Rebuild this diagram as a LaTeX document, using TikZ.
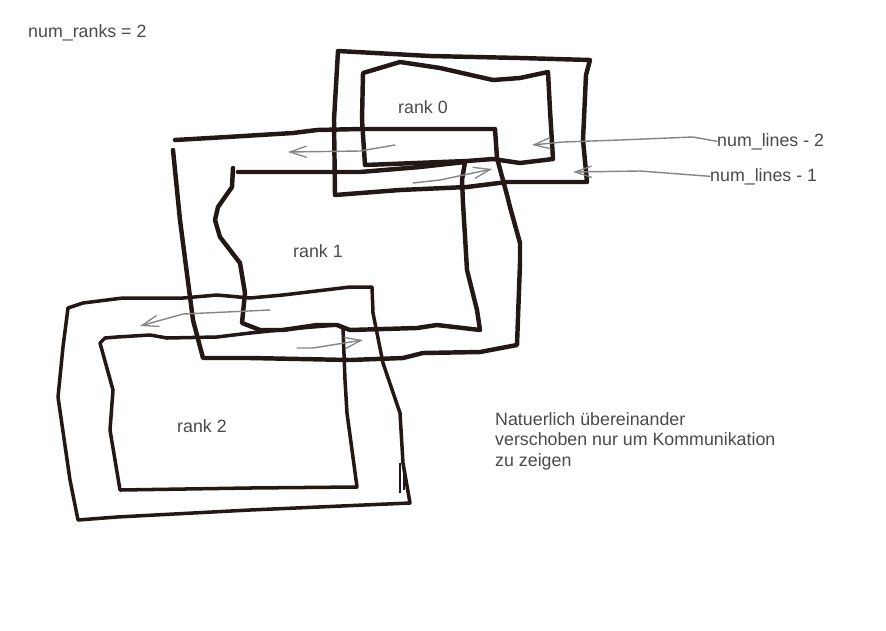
\documentclass[tikz,border=0pt]{standalone}
\usepackage{fontspec}
\setmainfont{Liberation Sans}
\usetikzlibrary{arrows.meta}
\usepackage{xcolor}
\definecolor{inkcol}{HTML}{231816}
\definecolor{pencilcol}{HTML}{858585}
\definecolor{labelcol}{HTML}{4A4A4A}

\begin{document}
\begin{tikzpicture}[
    x=0.03cm, y=-0.03cm,
    frame/.style={draw=inkcol, line width=3.8pt, line join=round, line cap=round},
    thinframe/.style={draw=inkcol, line width=3pt, line join=round, line cap=round},
    comm/.style={draw=pencilcol, line width=1.2pt, line cap=round,
        -{Straight Barb[length=5mm, width=3.4mm, line width=1.1pt]}},
    lbl/.style={font=\fontsize{15.2}{17.6}\selectfont, text=labelcol, inner sep=0pt},
]
\fill[white] (0,0) rectangle (886,630);
\useasboundingbox (0,0) rectangle (886,630);

% ============================================================
%  rank 0
% ============================================================
\draw[frame] (338,51) -- (430,56) -- (520,58) -- (590,60) -- (586,75) -- (583,140)
    -- (587,182) -- (507,182) -- (467,187) -- (400,190) -- (335,195) -- (334,120) -- cycle;
\draw[frame] (363,73) -- (400,62) -- (440,68) -- (493,80) -- (520,78) -- (548,72)
    -- (550,110) -- (553,159) -- (520,163) -- (493,159) -- (467,161) -- (365,165)
    -- (362,120) -- cycle;
\node[lbl, anchor=base west] (r0) at (398,113) {rank 0};

% ============================================================
%  rank 1
% ============================================================
\draw[frame] (175,140) -- (227,137) -- (293,133) -- (317,130) -- (360,129) -- (495,129)
    -- (497,158) -- (507,195) -- (510,207) -- (520,243) -- (520,263) -- (517,345)
    -- (480,352) -- (423,353) -- (403,358) -- (350,360) -- (250,358) -- (203,358)
    -- (193,320) -- (180,220) -- (173,150);
\draw[frame] (238,172) -- (300,172) -- (360,172) -- (420,167) -- (465,162) -- (462,180)
    -- (463,203) -- (467,270) -- (477,310) -- (480,330) -- (437,325) -- (417,328)
    -- (350,330) -- (337,325) -- (317,325) -- (283,330) -- (260,330) -- (242,323)
    -- (245,293) -- (240,263) -- (220,237) -- (215,220) -- (218,207) -- (232,187)
    -- (233,168);
\node[lbl, anchor=base west] (r1) at (293,257) {rank 1};

% ============================================================
%  rank 2
% ============================================================
\draw[thinframe] (68,308) -- (83,303) -- (123,298) -- (183,298) -- (217,295) -- (250,298)
    -- (283,295) -- (350,287) -- (372,287) -- (373,313) -- (383,363) -- (400,413)
    -- (403,463) -- (410,503) -- (250,510) -- (117,517) -- (78,520) -- (70,480)
    -- (58,397) -- (63,347) -- cycle;
\draw[thinframe] (105,338) -- (117,337) -- (150,335) -- (167,338) -- (217,337) -- (250,333)
    -- (300,328) -- (337,325) -- (343,328) -- (345,380) -- (347,413) -- (357,487)
    -- (250,488) -- (120,490) -- (110,430) -- (113,390) -- (100,343) -- cycle;
\draw[draw=inkcol, line width=1.2pt] (400,463) -- (400,493);
\draw[draw=inkcol, line width=1.2pt] (404,465) -- (404,490);
\node[lbl, anchor=base west] (r2) at (177,432) {rank 2};

% ============================================================
%  Communication between neighbouring ranks
% ============================================================
\coordinate (s01) at (395,145);
\coordinate (t01) at (288,152);
\coordinate (s10) at (413,183);
\coordinate (t10) at (492,169);
\coordinate (s12) at (270,310);
\coordinate (t12) at (140,326);
\coordinate (s21) at (297,348);
\coordinate (t21) at (363,340);

\draw[comm] (s01) -- (360,151) -- (t01);
\draw[comm] (s10) -- (440,180) -- (t10);
\draw[comm] (s12) -- (183,314) -- (t12);
\draw[comm] (s21) -- (313,348) -- (t21);

% ============================================================
%  Labels
% ============================================================
\node[lbl, anchor=base west] (ranks) at (28,37) {num\_ranks = 2};
\node[lbl, anchor=base west] (nl2) at (717,146) {num\_lines - 2};
\node[lbl, anchor=base west] (nl1) at (710,181) {num\_lines - 1};

\draw[comm] (nl2.west) -- (693,137) -- (620,140) -- (563,142) -- (532,145);
\draw[comm] (nl1.west) -- (640,171) -- (573,172);

\node[lbl, anchor=north west, align=left] (note) at (495,412)
    {Natuerlich übereinander\\verschoben nur um Kommunikation\\zu zeigen};

\end{tikzpicture}
\end{document}
